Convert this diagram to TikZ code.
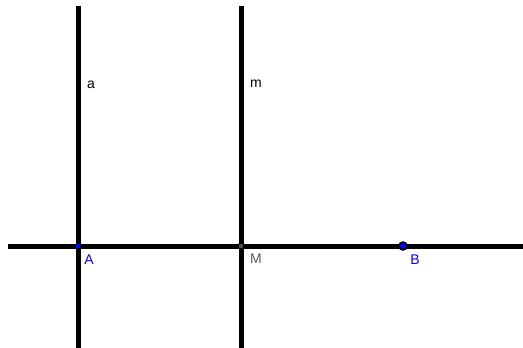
\documentclass[tikz,border=0pt]{standalone}
\usepackage{fontspec}
\setmainfont{Liberation Sans}
\begin{document}
\begin{tikzpicture}[x=1pt,y=-1pt,
  ln/.style={line width=5pt,black},
  lbl/.style={font=\fontsize{14}{14}\selectfont,inner sep=0pt},
  bluept/.style={circle,fill=blue,draw=black,line width=1.5pt,inner sep=0pt,minimum size=8pt},
  greypt/.style={circle,fill=black!70,draw=black,line width=1pt,inner sep=0pt,minimum size=6pt}]
\useasboundingbox (0,0) rectangle (523,348);
\coordinate (atop) at (78,6);
\coordinate (abot) at (78,348);
\coordinate (mtop) at (241,6);
\coordinate (mbot) at (241,348);
\coordinate (hl) at (8,246);
\coordinate (hr) at (523,246);
\draw[ln] (atop) -- (abot);
\draw[ln] (mtop) -- (mbot);
\draw[ln] (hl) -- (hr);
\node[circle,fill=blue,inner sep=0pt,minimum size=5pt] (A) at (78,246) {};
\node[greypt] (M) at (241,246) {};
\node[bluept] (B) at (403,246) {};
\node[lbl] (la) at (91,85) {a};
\node[lbl] (lm) at (256,84) {m};
\node[lbl,text=blue] (lA) at (89,260) {A};
\node[lbl,text=black!65] (lM) at (256,259) {M};
\node[lbl,text=blue] (lB) at (415,260) {B};
\end{tikzpicture}
\end{document}
